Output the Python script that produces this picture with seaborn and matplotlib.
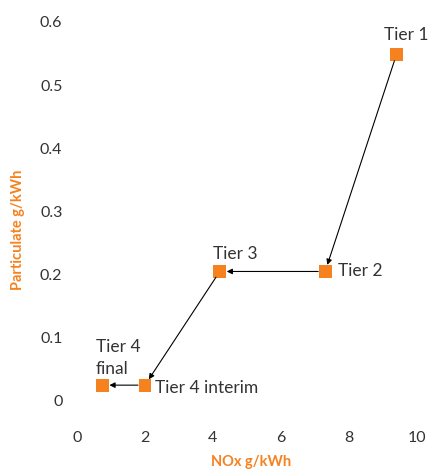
import matplotlib
matplotlib.use('Agg')
import matplotlib.pyplot as plt
import seaborn as sns
import pandas as pd

# EPA nonroad tiers
tiers = ['Tier 1', 'Tier 2', 'Tier 3', 'Tier 4 interim', 'Tier 4\nfinal']
nox = [9.4, 7.3, 4.2, 2.0, 0.75]
pm = [0.549, 0.205, 0.205, 0.025, 0.025]

x_ticks = [0, 2, 4, 6, 8, 10]
y_ticks = [0, 0.1, 0.2, 0.3, 0.4, 0.5, 0.6]
y_tick_labels = ['0', '0.1', '0.2', '0.3', '0.4', '0.5', '0.6']

orange = '#F5821F'
text_grey = '#333333'

sns.set_style('white')
plt.rcParams['font.family'] = ['Lato', 'DejaVu Sans']

df = pd.DataFrame({'tier': tiers, 'nox': nox, 'pm': pm})

fig = plt.figure(figsize=(4.3, 4.74), dpi=100)
ax = fig.add_axes([0.179, 0.1139, 0.7907, 0.8397])

sns.scatterplot(data=df, x='nox', y='pm', marker='s', s=85, color=orange,
                edgecolor='none', ax=ax, zorder=3, clip_on=False)

# arrows from each tier to the next
for i in range(len(tiers) - 1):
    ax.annotate('', xy=(nox[i + 1], pm[i + 1]), xytext=(nox[i], pm[i]),
                arrowprops=dict(arrowstyle='-|>', color='black', lw=0.8,
                                shrinkA=5, shrinkB=5, mutation_scale=8))

# label offsets in points
offsets = {
    'Tier 1': (-9, 8, 'left', 'bottom'),
    'Tier 2': (9, 0, 'left', 'center'),
    'Tier 3': (-5, 7, 'left', 'bottom'),
    'Tier 4 interim': (7, -2, 'left', 'center'),
    'Tier 4\nfinal': (-5, 6, 'left', 'bottom'),
}
for t, xv, yv in zip(tiers, nox, pm):
    dx, dy, ha, va = offsets[t]
    ax.annotate(t, (xv, yv), xytext=(dx, dy), textcoords='offset points',
                ha=ha, va=va, fontsize=12.5, color=text_grey,
                linespacing=1.45, annotation_clip=False)

ax.set_xlim(0, 10)
ax.set_ylim(-0.0302, 0.6)
ax.set_xticks(x_ticks)
ax.set_yticks(y_ticks)
ax.set_yticklabels(y_tick_labels)
ax.tick_params(axis='both', length=0, labelsize=11.5, labelcolor=text_grey)
ax.tick_params(axis='y', pad=10.5)
ax.tick_params(axis='x', pad=8)
sns.despine(ax=ax, left=True, bottom=True)

ax.set_xlabel('NOx g/kWh', color=orange, fontsize=10.5, fontweight='bold')
ax.set_ylabel('Particulate g/kWh', color=orange, fontsize=10.5, fontweight='bold')
ax.xaxis.set_label_coords(0.512, -0.1055)
ax.yaxis.set_label_coords(-0.1735, 0.477)
ax.xaxis.label.set_va('center')
ax.yaxis.label.set_va('center')

fig.savefig('out.png', dpi=100)
